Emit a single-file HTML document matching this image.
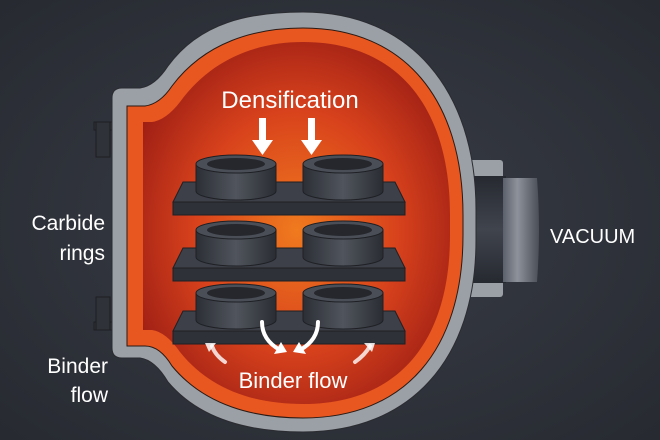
<!DOCTYPE html>
<html><head><style>
html,body{margin:0;padding:0;width:660px;height:440px;overflow:hidden;background:#2d3038}
text{font-family:"Liberation Sans",sans-serif}
</style></head><body>
<svg width="660" height="440" viewBox="0 0 660 440" xmlns="http://www.w3.org/2000/svg">
<defs>
<radialGradient id="bg" cx="0.5" cy="0.5" r="0.7"><stop offset="0" stop-color="#393d46"/><stop offset="1" stop-color="#272a31"/></radialGradient>
<radialGradient id="hot" cx="0.5" cy="0.52" r="0.6"><stop offset="0" stop-color="#f07a1e"/><stop offset="0.55" stop-color="#d8421c"/><stop offset="1" stop-color="#9a1c14"/></radialGradient>
<linearGradient id="pipe" x1="0" y1="0" x2="0" y2="1"><stop offset="0" stop-color="#262930"/><stop offset="0.5" stop-color="#40444d"/><stop offset="1" stop-color="#262930"/></linearGradient>
<linearGradient id="cap" x1="0" y1="0" x2="1" y2="0"><stop offset="0" stop-color="#5b606a"/><stop offset="0.4" stop-color="#8d929b"/><stop offset="1" stop-color="#4a4e57"/></linearGradient>
<linearGradient id="ring" x1="0" y1="0" x2="1" y2="0"><stop offset="0" stop-color="#2c2f36"/><stop offset="0.5" stop-color="#50545c"/><stop offset="1" stop-color="#2a2d33"/></linearGradient>
<g id="r">
<path d="M-40,0 L-40,27 A40,9 0 0 0 40,27 L40,0 Z" fill="url(#ring)" stroke="#1e2025" stroke-width="1"/>
<ellipse cx="0" cy="0" rx="40" ry="9" fill="#4a4e56" stroke="#1e2025"/>
<ellipse cx="0" cy="0" rx="29" ry="6" fill="#25272d"/>
</g>
<g id="t">
<path d="M10,0 L222,0 L232,20 L0,20 Z" fill="#3d4048" stroke="#1e2025"/>
<rect x="0" y="20" width="232" height="13" fill="#2e3137" stroke="#1e2025"/>
<use href="#r" x="63" y="-18"/>
<use href="#r" x="170" y="-18"/>
</g>
</defs>
<rect width="660" height="440" fill="url(#bg)"/>
<rect x="465" y="160" width="38" height="137" rx="3" fill="#9b9fa6"/>
<rect x="450" y="176" width="56" height="107" fill="url(#pipe)"/>
<path d="M503,178 L537,178 Q541,230 537,282 L503,282 Z" fill="url(#cap)"/>
<rect x="94" y="122" width="34" height="8" fill="#2f3238" stroke="#1c1e22"/>
<rect x="96" y="122" width="14" height="35" fill="#2f3238" stroke="#1c1e22"/>
<rect x="94" y="322" width="34" height="8" fill="#2f3238" stroke="#1c1e22"/>
<rect x="96" y="297" width="14" height="33" fill="#2f3238" stroke="#1c1e22"/>
<path d="M112,98 Q112,88 122,88 L140,88 Q155,86 168,66 C200,22 250,12 303,12 C410,12 476,90 476,210 L476,240 C476,360 410,432 303,432 C250,432 200,420 168,382 Q155,360 140,358 L122,358 Q112,358 112,348 Z" fill="#9b9fa6" stroke="#2a2c31" stroke-width="1"/>
<path d="M127,106 L145,106 Q160,104 172,86 C205,42 255,28 303,28 C405,28 463,100 463,215 L463,235 C463,350 405,418 303,418 C255,418 205,406 172,366 Q160,346 145,346 L127,346 Z" fill="#e8571f" stroke="#2a1a14" stroke-width="1"/>
<path d="M143,122 L152,122 Q166,120 180,102 C212,58 258,42 303,42 C400,42 450,110 450,215 L450,235 C450,340 400,404 303,404 C258,404 212,392 180,352 Q166,332 152,330 L143,330 Z" fill="url(#hot)"/>
<use href="#t" x="173" y="182"/>
<use href="#t" x="173" y="248"/>
<use href="#t" x="173" y="311"/>
<g fill="#fff">
<rect x="259" y="118" width="7" height="24"/><path d="M252,140 L273,140 L262.5,155 Z"/>
<rect x="308" y="118" width="7" height="24"/><path d="M301,140 L322,140 L311.5,155 Z"/>
</g>
<g fill="none" stroke="#fff" stroke-width="4" stroke-linecap="round">
<path d="M262,322 Q262,340 280,350"/><path d="M318,322 Q318,340 300,350"/>
<path d="M225,362 Q215,355 212,346" stroke-opacity="0.8"/><path d="M355,362 Q365,355 370,346" stroke-opacity="0.8"/>
</g>
<g fill="#fff"><path d="M274,354 L287,352 L281,342 Z"/><path d="M306,354 L293,352 L299,342 Z"/>
<path d="M205,343 L216,343 L209,352 Z" opacity="0.85"/><path d="M375,343 L364,343 L372,352 Z" opacity="0.85"/></g>
<text x="290" y="108" font-size="24" fill="#fff" text-anchor="middle">Densification</text>
<text x="293" y="388" font-size="22" fill="#fff" text-anchor="middle">Binder flow</text>
<text x="105" y="230" font-size="21" fill="#fff" text-anchor="end">Carbide</text>
<text x="105" y="260" font-size="21" fill="#fff" text-anchor="end">rings</text>
<text x="108" y="373" font-size="21" fill="#fff" text-anchor="end">Binder</text>
<text x="108" y="402" font-size="21" fill="#fff" text-anchor="end">flow</text>
<text x="550" y="243" font-size="20" fill="#fff">VACUUM</text>
</svg>
</body></html>
